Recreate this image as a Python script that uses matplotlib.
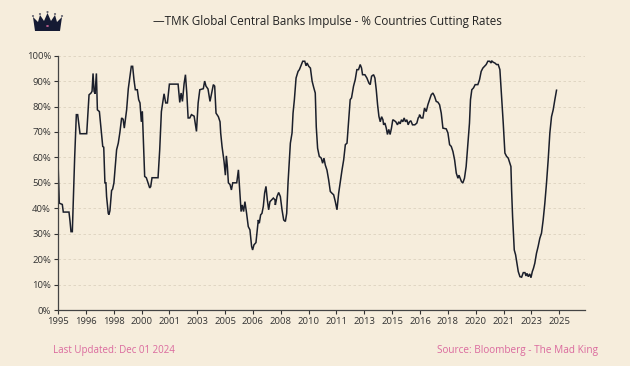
import matplotlib
matplotlib.use("Agg")
import matplotlib.pyplot as plt
from matplotlib.patches import Polygon, Circle
import numpy as np

# %% data (decimal year, % of central banks cutting)
years = [
    1995.00, 1995.08, 1995.18, 1995.26, 1995.32, 1995.66, 1995.72, 1995.78, 1995.86, 1996.00,
    1996.10, 1996.18, 1996.32, 1996.72, 1996.86, 1996.98, 1997.04, 1997.10, 1997.16, 1997.22,
    1997.30, 1997.36, 1997.48, 1997.60, 1997.68, 1997.74, 1997.81, 1997.87, 1997.91, 1998.01,
    1998.05, 1998.11, 1998.21, 1998.27, 1998.35, 1998.51, 1998.61, 1998.71, 1998.81, 1998.90,
    1998.97, 1999.11, 1999.21, 1999.31, 1999.39, 1999.47, 1999.55, 1999.63, 1999.75, 1999.83,
    1999.91, 1999.99, 2000.05, 2000.13, 2000.19, 2000.29, 2000.39, 2000.49, 2000.55, 2000.63,
    2000.99, 2001.09, 2001.19, 2001.35, 2001.45, 2001.55, 2001.67, 2002.19, 2002.29, 2002.37,
    2002.45, 2002.55, 2002.63, 2002.71, 2002.79, 2002.89, 2002.99, 2003.15, 2003.29, 2003.39,
    2003.49, 2003.70, 2003.78, 2003.86, 2003.98, 2004.10, 2004.20, 2004.30, 2004.38, 2004.46,
    2004.60, 2004.70, 2004.74, 2004.82, 2004.94, 2005.02, 2005.08, 2005.14, 2005.20, 2005.30,
    2005.38, 2005.46, 2005.70, 2005.80, 2005.88, 2005.96, 2006.03, 2006.11, 2006.19, 2006.29,
    2006.39, 2006.49, 2006.59, 2006.65, 2006.73, 2006.85, 2006.93, 2006.99, 2007.05, 2007.13,
    2007.21, 2007.29, 2007.37, 2007.45, 2007.53, 2007.61, 2007.69, 2007.79, 2007.89, 2007.99,
    2008.01, 2008.11, 2008.21, 2008.31, 2008.41, 2008.51, 2008.61, 2008.69, 2008.77, 2008.85,
    2008.91, 2009.01, 2009.07, 2009.15, 2009.25, 2009.37, 2009.45, 2009.57, 2009.65, 2009.77,
    2009.85, 2009.91, 2010.01, 2010.11, 2010.21, 2010.31, 2010.40, 2010.46, 2010.54, 2010.64,
    2010.76, 2010.84, 2010.92, 2011.00, 2011.10, 2011.20, 2011.30, 2011.40, 2011.50, 2011.60,
    2011.70, 2011.80, 2011.90, 2012.00, 2012.10, 2012.20, 2012.30, 2012.37, 2012.49, 2012.57,
    2012.69, 2012.79, 2012.89, 2012.99, 2013.09, 2013.17, 2013.23, 2013.37, 2013.49, 2013.61,
    2013.69, 2013.77, 2013.89, 2013.97, 2014.05, 2014.13, 2014.21, 2014.29, 2014.37, 2014.45,
    2014.49, 2014.57, 2014.65, 2014.72, 2014.80, 2014.88, 2014.96, 2015.04, 2015.12, 2015.22,
    2015.32, 2015.40, 2015.48, 2015.56, 2015.64, 2015.72, 2015.80, 2015.88, 2015.96, 2016.04,
    2016.12, 2016.22, 2016.36, 2016.48, 2016.56, 2016.62, 2016.64, 2016.74, 2016.84, 2016.94,
    2017.04, 2017.14, 2017.24, 2017.34, 2017.44, 2017.54, 2017.64, 2017.74, 2017.84, 2017.94,
    2018.04, 2018.24, 2018.34, 2018.44, 2018.54, 2018.64, 2018.74, 2018.84, 2018.94, 2019.00,
    2019.07, 2019.15, 2019.23, 2019.33, 2019.43, 2019.53, 2019.63, 2019.69, 2019.77, 2019.87,
    2019.97, 2020.13, 2020.23, 2020.33, 2020.43, 2020.53, 2020.63, 2020.73, 2020.83, 2020.93,
    2020.95, 2021.05, 2021.15, 2021.25, 2021.35, 2021.45, 2021.55, 2021.65, 2021.75, 2021.85,
    2021.95, 2022.05, 2022.11, 2022.15, 2022.21, 2022.31, 2022.39, 2022.47, 2022.55, 2022.65,
    2022.75, 2022.85, 2022.95, 2023.01, 2023.07, 2023.15, 2023.23, 2023.31, 2023.39, 2023.46,
    2023.54, 2023.64, 2023.74, 2023.84, 2023.94, 2024.04, 2024.14, 2024.24, 2024.34, 2024.44,
    2024.54, 2024.64, 2024.74, 2024.84,
]
pct_cutting = [
    59.0, 42.0, 41.7, 41.5, 38.5, 38.5, 35.0, 30.8, 30.8, 60.0,
    76.8, 76.8, 69.3, 69.3, 84.6, 85.3, 86.0, 93.0, 86.0, 85.0,
    93.0, 78.7, 78.0, 70.0, 64.3, 64.0, 50.0, 50.0, 44.6, 38.0,
    37.5, 39.0, 47.0, 47.5, 50.0, 63.0, 65.6, 70.0, 75.5, 75.0,
    71.5, 78.7, 87.0, 92.0, 95.8, 95.8, 90.5, 86.6, 86.6, 82.7,
    81.4, 74.0, 78.0, 64.0, 52.5, 52.0, 50.0, 48.0, 48.5, 52.0,
    52.0, 63.0, 78.0, 85.0, 81.4, 81.4, 88.8, 88.8, 81.6, 85.3,
    82.0, 89.0, 92.5, 85.3, 75.5, 75.5, 76.8, 76.2, 70.2, 81.4,
    86.6, 87.0, 90.0, 88.0, 86.9, 82.0, 85.3, 88.6, 88.0, 77.4,
    76.0, 74.0, 69.5, 64.3, 58.4, 53.0, 60.6, 56.4, 50.0, 49.3,
    47.2, 50.0, 50.0, 55.1, 47.2, 38.7, 41.3, 38.7, 42.6, 38.0,
    32.8, 31.5, 25.0, 23.6, 25.6, 26.5, 31.5, 35.4, 34.1, 37.4,
    38.0, 40.7, 46.0, 48.6, 43.3, 39.4, 42.6, 43.3, 44.0, 43.3,
    41.3, 44.6, 46.2, 44.6, 39.4, 35.4, 34.8, 38.0, 50.0, 59.0,
    65.6, 69.6, 77.4, 82.7, 91.2, 93.8, 94.5, 96.5, 97.8, 97.8,
    96.0, 97.1, 95.8, 95.1, 90.0, 87.4, 85.3, 72.0, 63.6, 60.4,
    59.7, 57.7, 59.7, 57.0, 55.0, 51.2, 46.6, 45.9, 45.3, 42.6,
    39.4, 45.9, 50.5, 55.0, 59.0, 65.0, 65.6, 72.0, 82.7, 83.4,
    88.0, 90.5, 94.5, 94.5, 96.5, 95.1, 92.5, 92.5, 91.2, 89.2,
    88.6, 91.9, 92.5, 91.2, 86.6, 80.7, 76.1, 74.0, 76.0, 74.8,
    72.8, 73.5, 71.5, 69.0, 71.0, 69.0, 71.5, 74.8, 74.5, 74.0,
    72.8, 74.0, 73.2, 74.8, 74.0, 75.5, 74.0, 74.8, 72.8, 74.0,
    74.4, 72.8, 72.8, 73.5, 75.5, 76.0, 76.8, 75.5, 75.5, 79.4,
    78.0, 80.7, 82.7, 84.6, 85.3, 84.0, 82.0, 81.7, 80.7, 77.4,
    71.5, 71.2, 69.6, 65.0, 64.3, 62.3, 59.0, 53.8, 51.8, 53.0,
    51.8, 50.5, 49.9, 51.8, 56.4, 65.0, 73.5, 82.7, 86.6, 87.3,
    88.6, 88.6, 90.5, 93.8, 95.1, 95.8, 96.5, 97.8, 97.8, 97.1,
    98.0, 97.4, 97.1, 96.5, 96.5, 94.5, 84.0, 73.5, 61.7, 60.4,
    59.7, 57.7, 56.4, 47.2, 36.7, 23.6, 21.7, 18.4, 15.1, 13.1,
    12.9, 14.7, 14.7, 13.4, 14.4, 13.1, 14.2, 12.7, 15.1, 16.4,
    18.4, 22.3, 25.0, 28.2, 30.2, 35.4, 42.0, 49.9, 59.0, 69.6,
    76.0, 78.7, 82.7, 86.4,
]

title = "\u2014TMK Global Central Banks Impulse - % Countries Cutting Rates"
left_note = "Last Updated: Dec 01 2024"
right_note = "Source: Bloomberg - The Mad King"

# %%
bg = "#F6EDDC"
pink = "#DB6A9E"
ink = "#1B1F2B"

plt.rcParams['font.family'] = ['Open Sans', 'DejaVu Sans']

fig = plt.figure(figsize=(6.3, 3.66), dpi=100, facecolor=bg)
ax = fig.add_axes([0.092, 0.153, 0.837, 0.695], facecolor=bg)

ax.plot(years, pct_cutting, color=ink, lw=1.1, solid_joinstyle='miter')

ax.set_ylim(0, 100)
ax.set_xlim(1995.0, 2026.56)
ax.set_yticks(np.arange(0, 101, 10))
ax.set_yticklabels([f"{v}%" for v in range(0, 101, 10)])

xt = [1995 + k * 20 / 12 for k in range(19)]
ax.set_xticks(xt)
ax.set_xticklabels([str(int(np.floor(t + 1e-6))) for t in xt])

ax.tick_params(axis='both', labelsize=6.8, colors='#333333', length=3, width=0.8, pad=2)
for s in ['top', 'right']:
    ax.spines[s].set_visible(False)
for s in ['left', 'bottom']:
    ax.spines[s].set_color('#444444')
    ax.spines[s].set_linewidth(0.9)

ax.yaxis.grid(True, color='#DCD2BF', lw=0.6, dashes=(3, 3))
ax.set_axisbelow(True)

fig.text(0.52, 0.94, title, ha='center', va='center', fontsize=8.4, color='#222222')
fig.text(0.084, 0.043, left_note, ha='left', va='center', fontsize=7, color=pink)
fig.text(0.949, 0.043, right_note, ha='right', va='center', fontsize=7.2, color=pink)

# crown logo
W, H = 630, 366
pts = [(35, 31), (33, 17), (38, 22), (40, 15), (44, 21), (47.5, 13), (51, 21),
       (55, 15), (57, 22), (62, 17), (60, 31)]
crown = Polygon([(x / W, 1 - y / H) for x, y in pts], closed=True,
                transform=fig.transFigure, facecolor='#151a33', edgecolor='none')
fig.patches.append(crown)
for tx, ty in [(33, 16), (40, 14), (47.5, 12), (55, 14), (62, 16)]:
    fig.patches.append(Circle((tx / W, 1 - ty / H), 1.1 / W, transform=fig.transFigure,
                              facecolor='#151a33', edgecolor='none'))
fig.patches.append(Circle((47.5 / W, 1 - 26 / H), 1.4 / W, transform=fig.transFigure,
                          facecolor=pink, edgecolor='none'))

fig.savefig("out.png", dpi=100, facecolor=bg)
